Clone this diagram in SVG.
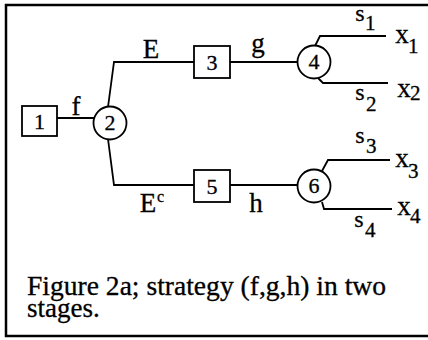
<svg xmlns="http://www.w3.org/2000/svg" width="428" height="340" viewBox="0 0 428 340">
<style>
.ln{fill:none;stroke:#000;stroke-width:1.8}
.nd{fill:#fff;stroke:#000;stroke-width:1.8}
text{font-family:"Liberation Serif","Times New Roman",serif;fill:#000;stroke:#000;stroke-width:0.3}
.lab{font-size:27px;text-anchor:middle}
.s{font-size:24px;text-anchor:middle}
.num{font-size:22px;text-anchor:middle}
.sub{font-size:21px}
.cap{font-size:27px}
</style>
<rect x="6" y="5" width="440" height="331" fill="#fff" stroke="#000" stroke-width="2.5"/>
<g id="connectors">
<line class="ln" x1="57" y1="118" x2="94" y2="118"/>
<polyline class="ln" points="108,107 114,62 194,62"/>
<polyline class="ln" points="108,139 114,185 194,185"/>
<line class="ln" x1="230" y1="62" x2="298" y2="62"/>
<line class="ln" x1="230" y1="185" x2="298" y2="185"/>
<polyline class="ln" points="315,46 320,36 386,36"/>
<polyline class="ln" points="318,78 323,83 388,83"/>
<polyline class="ln" points="322,171 328,160 390,160"/>
<polyline class="ln" points="322,202 324,209 392,209"/>
<text class="lab" x="76" y="115">f</text>
<text class="lab" x="151" y="58">E</text>
<text class="lab" x="258" y="52">g</text>
<text class="lab" x="256" y="212">h</text>
<text class="lab" x="148" y="212">E</text>
<text x="157" y="202" style="font-size:16px">c</text>
<text class="s" x="360" y="21">s</text><text class="sub" x="365" y="30">1</text>
<text class="lab" x="402" y="43">x</text><text class="sub" x="408" y="53">1</text>
<text class="s" x="360" y="100">s</text><text class="sub" x="366" y="111">2</text>
<text class="lab" x="404" y="97">x</text><text class="sub" x="410" y="100">2</text>
<text class="s" x="360" y="143">s</text><text class="sub" x="366" y="153">3</text>
<text class="lab" x="402" y="167">x</text><text class="sub" x="408" y="178">3</text>
<text class="s" x="359" y="227">s</text><text class="sub" x="365" y="237">4</text>
<text class="lab" x="404" y="215">x</text><text class="sub" x="410" y="223">4</text>
</g>
<g id="n1"><rect class="nd" x="22" y="106" width="35" height="30"/><text class="num" x="39.5" y="129">1</text></g>
<g id="n2"><circle class="nd" cx="110" cy="123" r="16.5"/><text class="num" x="110" y="130">2</text></g>
<g id="n3"><rect class="nd" x="194" y="46" width="36" height="32"/><text class="num" x="212" y="70">3</text></g>
<g id="n4"><circle class="nd" cx="314" cy="62" r="16.5"/><text class="num" x="314" y="69">4</text></g>
<g id="n5"><rect class="nd" x="194" y="170" width="36" height="32"/><text class="num" x="212" y="194">5</text></g>
<g id="n6"><circle class="nd" cx="314" cy="186" r="16.5"/><text class="num" x="314" y="193">6</text></g>
<g id="caption">
<text class="cap"><tspan x="27" y="295" textLength="359" lengthAdjust="spacingAndGlyphs">Figure 2a; strategy (f,g,h) in two</tspan><tspan x="27" y="317">stages.</tspan></text>
</g>
</svg>
